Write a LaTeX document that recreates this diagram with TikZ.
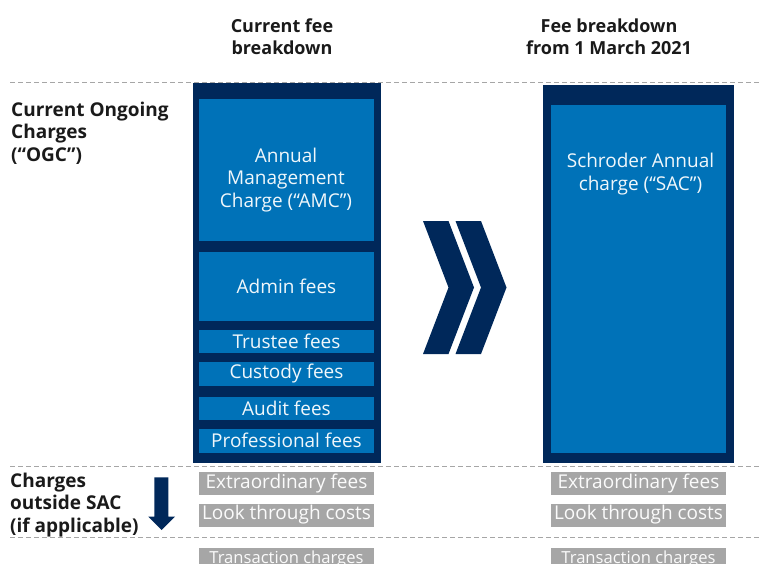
\documentclass[tikz,border=0pt]{standalone}
\usepackage{fontspec}
\setmainfont{Open Sans}
\definecolor{navy}{HTML}{00285A}
\definecolor{midblue}{HTML}{0072B8}
\definecolor{greybox}{HTML}{A6A6A6}
\definecolor{rule}{HTML}{A6A6A6}
\definecolor{ink}{HTML}{1A1A1A}
\tikzset{
  outerbox/.style={fill=navy, draw=none, inner sep=0pt, outer sep=0pt},
  boxfont/.style={font=\fontsize{19}{22.5}\selectfont},
  feebox/.style={fill=midblue, draw=none, inner sep=0pt, outer sep=0pt,
    minimum width=175pt, text=white!94!midblue, boxfont, align=center},
  feetext/.style={boxfont, text=white!94!midblue, align=center, inner sep=0pt},
  greyfee/.style={fill=greybox, draw=none, inner sep=0pt, outer sep=0pt,
    minimum width=175pt, minimum height=23pt, text=white!95!greybox, boxfont},
  tradebox/.style={greyfee, anchor=north, font=\fontsize{16.6}{20}\selectfont,
    text height=15.3pt, text depth=8pt},
  header/.style={font=\bfseries\fontsize{18}{22}\selectfont, text=ink, align=center, inner sep=0pt},
  sidelabel/.style={font=\bfseries\fontsize{19}{22.5}\selectfont, text=ink, align=left, inner sep=0pt},
  divider/.style={draw=rule, line width=1pt, dash pattern=on 5pt off 3pt},
  chevron/.style={fill=navy, draw=none},
}
\begin{document}
\begin{tikzpicture}[x=1pt, y=-1pt]
\useasboundingbox (0,0) rectangle (760,564);
\clip (0,0) rectangle (760,564);

% section dividers
\coordinate (d1a) at (10,83);  \coordinate (d1b) at (760,83);
\coordinate (d2a) at (10,466); \coordinate (d2b) at (760,466);
\coordinate (d3a) at (10,537); \coordinate (d3b) at (760,537);
\draw[divider] (d1a) -- (d1b);
\draw[divider] (d2a) -- (d2b);
\draw[divider] (d3a) -- (d3b);

% column headers
\node[header] (hleft) at (282,37) {Current fee\\breakdown};
\node[header] (hright) at (609,37) {Fee breakdown\\from 1 March 2021};

% row labels
\node[sidelabel, anchor=north west] (ogc) at (11,101.5) {Current Ongoing\\Charges\\(“OGC”)};
\node[sidelabel, anchor=north west] (outside) at (10,472.5) {Charges\\outside SAC\\(if applicable)};

% current fee column
\node[outerbox, minimum width=188pt, minimum height=380pt] (leftcol) at (287,273) {};
\node[feebox, minimum height=142pt] (amc) at (286.5,170) {};
\node[feetext] (amctext) at (286,180) {Annual\\Management\\Charge (“AMC”)};
\node[feebox, minimum height=69pt] (admin) at (286.5,286.5) {Admin fees};
\node[feebox, minimum height=23.5pt] (trustee) at (286.5,341.7) {Trustee fees};
\node[feebox, minimum height=23.5pt] (custody) at (286.5,374) {Custody fees};
\node[feebox, minimum height=23pt] (audit) at (286.5,408) {Audit fees};
\node[feebox, minimum height=23.5pt] (prof) at (286.5,440.8) {Professional fees};

% new fee column
\node[outerbox, minimum width=191pt, minimum height=378pt] (rightcol) at (638.5,274) {};
\node[feebox, minimum height=348pt] (sac) at (638.5,279) {};
\node[feetext] (sactext) at (640.5,174) {Schroder Annual\\charge (“SAC”)};

% charges outside the SAC
\node[greyfee] (extraL) at (286.5,483.7) {Extraordinary fees};
\node[greyfee] (lookL) at (286.5,515) {Look through costs};
\node[tradebox] (transL) at (286.5,548.3) {Transaction charges};
\node[greyfee] (extraR) at (638.5,483.7) {Extraordinary fees};
\node[greyfee] (lookR) at (638.5,515) {Look through costs};
\node[tradebox] (transR) at (638.5,548.3) {Transaction charges};

% double chevron between the columns
\foreach \x in {423,455.5}{
  \fill[chevron] (\x,221) -- (\x+25.5,221) -- (\x+51,287.5) -- (\x+25.5,354)
    -- (\x,354) -- (\x+25.5,287.5) -- cycle;
}

% downward arrow beside the outside-SAC label
\fill[navy] (154.3,477.3) -- (168.3,477.3) -- (168.3,516.7) -- (175,516.7)
  -- (161.7,530) -- (148.3,516.7) -- (154.3,516.7) -- cycle;
\end{tikzpicture}
\end{document}
